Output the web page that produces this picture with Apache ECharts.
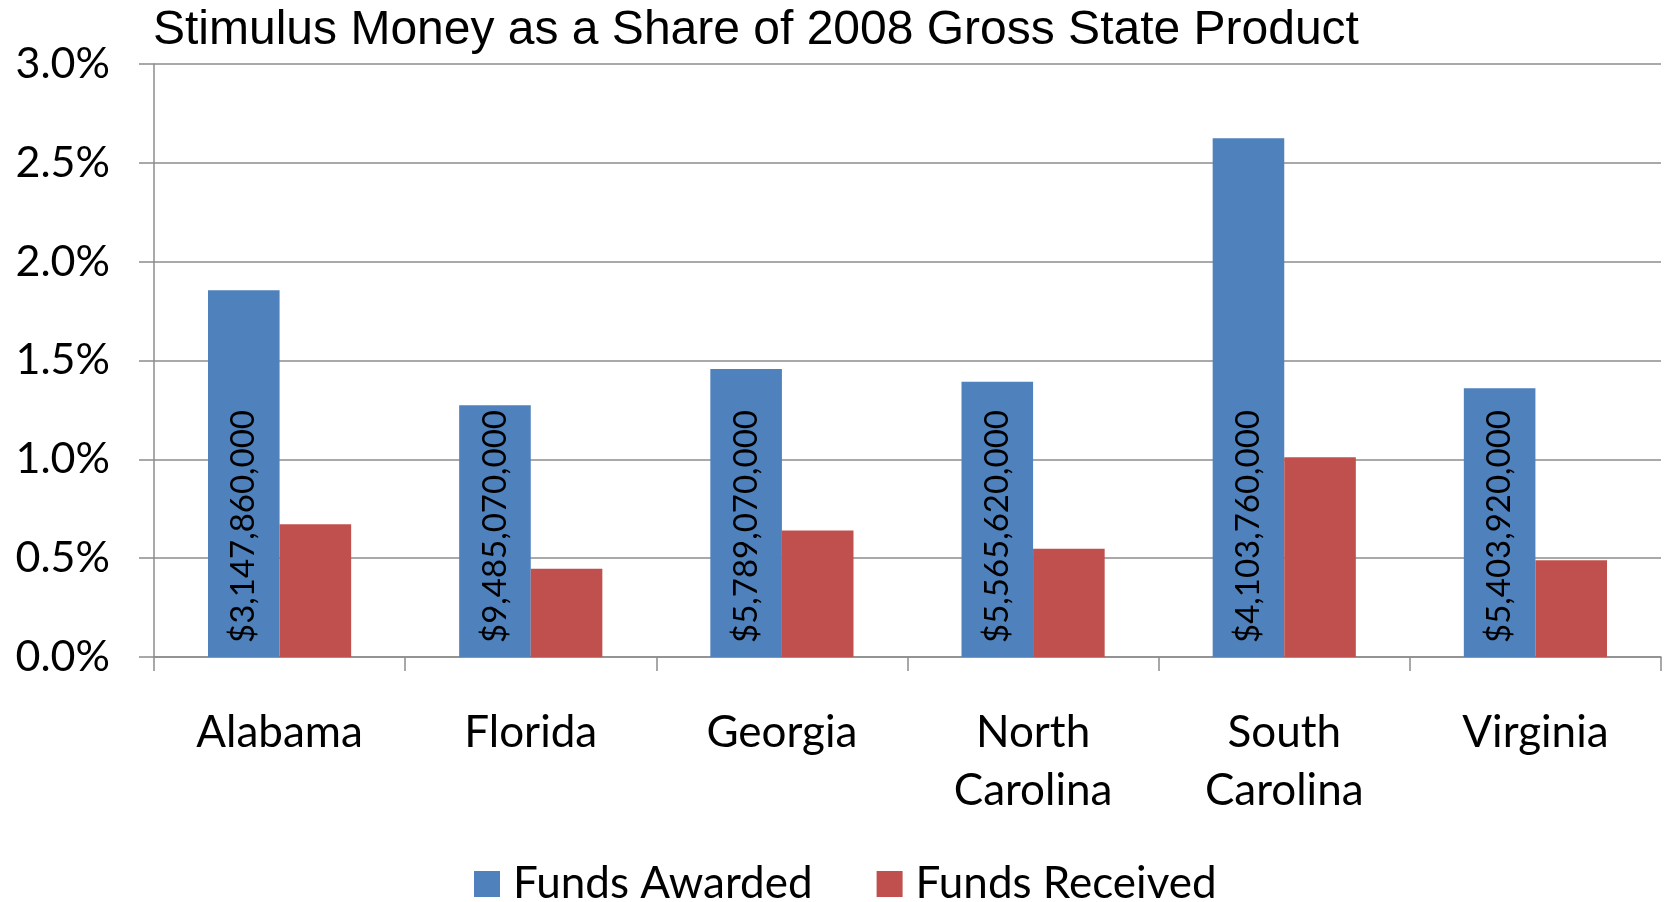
<!DOCTYPE html>
<html>
<head>
<meta charset="utf-8">
<script src="https://cdn.jsdelivr.net/npm/echarts@6/dist/echarts.min.js"></script>
<style>
  html, body { margin: 0; padding: 0; background: #fff; }
  #chart { width: 1667px; height: 902px; }
</style>
</head>
<body>
<div id="chart"></div>
<script>
// data (percent of 2008 GSP)
const states = ['Alabama', 'Florida', 'Georgia', 'North Carolina', 'South Carolina', 'Virginia'];
const fundsAwarded = [1.855, 1.274, 1.457, 1.392, 2.624, 1.360];
const fundsReceived = [0.672, 0.446, 0.640, 0.548, 1.011, 0.489];
const awardedDollars = ['$3,147,860,000', '$9,485,070,000', '$5,789,070,000', '$5,565,620,000', '$4,103,760,000', '$5,403,920,000'];
const yTicks = [0, 0.5, 1.0, 1.5, 2.0, 2.5, 3.0];

const labelFont = 'Lato, "Noto Sans", sans-serif';
const gridColor = '#8c8c8c';

const chart = echarts.init(document.getElementById('chart'));

chart.setOption({
  backgroundColor: '#fff',
  animation: false,
  title: {
    text: 'Stimulus Money as a Share of 2008 Gross State Product',
    left: 148,
    top: 2,
    textStyle: {
      fontFamily: '"Liberation Sans", Arial, sans-serif',
      fontSize: 48,
      fontWeight: 'normal',
      color: '#000'
    }
  },
  grid: {
    left: 154,
    right: 6,
    top: 64,
    bottom: 245
  },
  legend: {
    data: ['Funds Awarded', 'Funds Received'],
    left: 474,
    top: 862,
    padding: 0,
    itemWidth: 26,
    itemHeight: 26,
    itemGap: 64,
    icon: 'rect',
    textStyle: {
      fontFamily: labelFont,
      fontSize: 44,
      color: '#000',
      padding: [0, 0, 0, 8]
    }
  },
  xAxis: {
    type: 'category',
    data: states,
    axisLine: { lineStyle: { color: gridColor, width: 1.5 } },
    axisTick: { show: true, length: 14, interval: 0, lineStyle: { color: gridColor, width: 1.5 } },
    axisLabel: {
      interval: 0,
      margin: 47,
      fontFamily: labelFont,
      fontSize: 44,
      lineHeight: 58,
      color: '#000',
      formatter: v => v.replace(' ', '\n')
    }
  },
  yAxis: {
    type: 'value',
    min: yTicks[0],
    max: yTicks[yTicks.length - 1],
    interval: 0.5,
    axisLine: { show: true, lineStyle: { color: gridColor, width: 1.5 } },
    axisTick: { show: true, length: 15, lineStyle: { color: gridColor, width: 1.5 } },
    splitLine: { lineStyle: { color: gridColor, width: 1.5 } },
    axisLabel: {
      margin: 44,
      fontFamily: labelFont,
      fontSize: 43,
      color: '#000',
      formatter: v => v.toFixed(1) + '%'
    }
  },
  series: [
    {
      name: 'Funds Awarded',
      type: 'bar',
      data: fundsAwarded,
      barGap: '0%',
      barCategoryGap: '43%',
      itemStyle: { color: '#4F81BD' },
      label: {
        show: true,
        position: 'insideBottom',
        rotate: 90,
        align: 'left',
        verticalAlign: 'middle',
        distance: 14,
        fontFamily: labelFont,
        fontSize: 33,
        color: '#000',
        formatter: p => awardedDollars[p.dataIndex]
      }
    },
    {
      name: 'Funds Received',
      type: 'bar',
      data: fundsReceived,
      itemStyle: { color: '#C0504D' }
    }
  ]
});
</script>
</body>
</html>
